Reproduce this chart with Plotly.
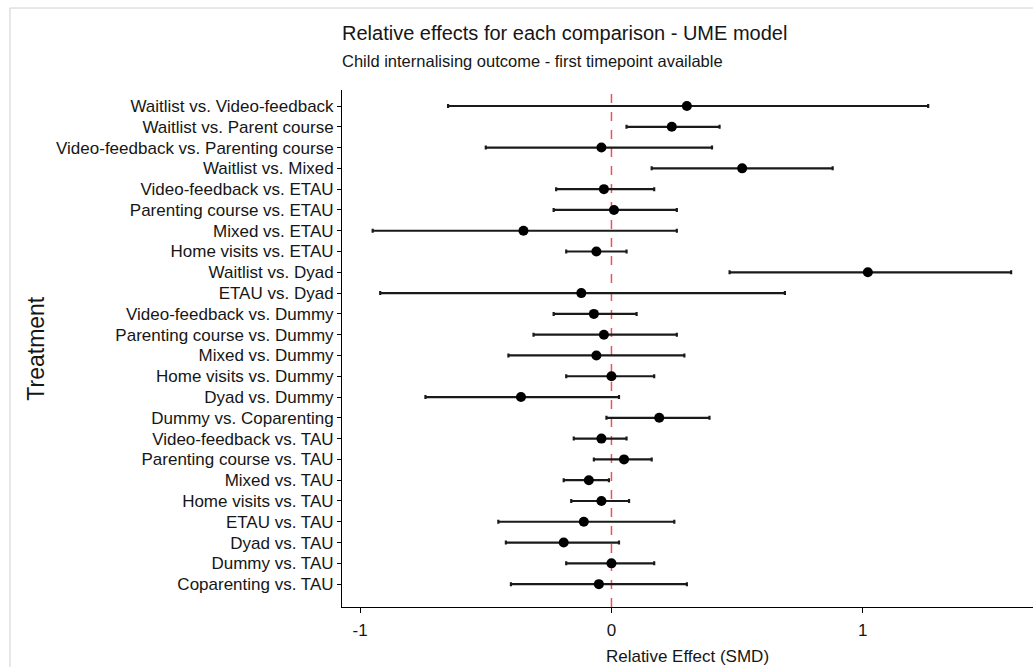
import plotly.graph_objects as go

# Comparisons, listed from top to bottom as displayed
comparisons = [
    "Waitlist vs. Video-feedback",
    "Waitlist vs. Parent course",
    "Video-feedback vs. Parenting course",
    "Waitlist vs. Mixed",
    "Video-feedback vs. ETAU",
    "Parenting course vs. ETAU",
    "Mixed vs. ETAU",
    "Home visits vs. ETAU",
    "Waitlist vs. Dyad",
    "ETAU vs. Dyad",
    "Video-feedback vs. Dummy",
    "Parenting course vs. Dummy",
    "Mixed vs. Dummy",
    "Home visits vs. Dummy",
    "Dyad vs. Dummy",
    "Dummy vs. Coparenting",
    "Video-feedback vs. TAU",
    "Parenting course vs. TAU",
    "Mixed vs. TAU",
    "Home visits vs. TAU",
    "ETAU vs. TAU",
    "Dyad vs. TAU",
    "Dummy vs. TAU",
    "Coparenting vs. TAU",
]

# Standardised mean differences with 95% intervals
smd = [0.30, 0.24, -0.04, 0.52, -0.03, 0.01, -0.35, -0.06, 1.02, -0.12,
       -0.07, -0.03, -0.06, 0.00, -0.36, 0.19, -0.04, 0.05, -0.09, -0.04,
       -0.11, -0.19, 0.00, -0.05]
lower = [-0.65, 0.06, -0.50, 0.16, -0.22, -0.23, -0.95, -0.18, 0.47, -0.92,
         -0.23, -0.31, -0.41, -0.18, -0.74, -0.02, -0.15, -0.07, -0.19, -0.16,
         -0.45, -0.42, -0.18, -0.40]
upper = [1.26, 0.43, 0.40, 0.88, 0.17, 0.26, 0.26, 0.06, 1.59, 0.69,
         0.10, 0.26, 0.29, 0.17, 0.03, 0.39, 0.06, 0.16, -0.01, 0.07,
         0.25, 0.03, 0.17, 0.30]

x_ticks = [-1, 0, 1]

err_plus = [u - m for u, m in zip(upper, smd)]
err_minus = [m - l for m, l in zip(smd, lower)]

FONT = "Liberation Sans, Arial, sans-serif"
INK = "#161616"

fig = go.Figure()
fig.add_trace(go.Scatter(
    x=smd,
    y=comparisons,
    mode="markers",
    marker=dict(color="black", size=10),
    error_x=dict(type="data", symmetric=False, array=err_plus,
                 arrayminus=err_minus, color="#1a1a1a", thickness=2.2,
                 width=2),
    showlegend=False,
    hoverinfo="x+y",
))

# Reference line of no effect
fig.add_shape(type="line", xref="x", yref="paper", x0=0, x1=0, y0=0, y1=1,
              line=dict(color="#f0505c", width=1.5, dash="dash"), layer="below")

# Light frame around the graphic
fig.add_shape(type="rect", xref="paper", yref="paper",
              x0=-0.4805, x1=1.2, y0=-0.3, y1=1.1586,
              line=dict(color="#d0d0d0", width=1), layer="below")

fig.add_annotation(text="Relative effects for each comparison - UME model",
                   xref="paper", yref="paper", x=-0.003, y=1.110,
                   xanchor="left", yanchor="middle", showarrow=False,
                   font=dict(family=FONT, size=20, color=INK))
fig.add_annotation(text="Child internalising outcome - first timepoint available",
                   xref="paper", yref="paper", x=-0.003, y=1.0560,
                   xanchor="left", yanchor="middle", showarrow=False,
                   font=dict(family=FONT, size=16.5, color=INK))
fig.add_annotation(text="Treatment", xref="paper", yref="paper",
                   x=-0.444, y=0.50, textangle=-90,
                   xanchor="center", yanchor="middle", showarrow=False,
                   font=dict(family=FONT, size=23, color=INK))

fig.update_layout(
    width=1033, height=667,
    margin=dict(l=342, r=0, t=90, b=60),
    paper_bgcolor="white", plot_bgcolor="white",
    font=dict(family=FONT, color=INK),
    xaxis=dict(
        range=[-1.072, 1.677],
        tickvals=x_ticks, ticktext=[str(v) for v in x_ticks],
        ticks="outside", ticklen=5, tickcolor="black",
        ticklabelstandoff=3,
        showline=True, linecolor="black", linewidth=1,
        showgrid=False, zeroline=False,
        tickfont=dict(size=17, color=INK),
        title=dict(text="Relative Effect (SMD)", standoff=10,
                   font=dict(size=17, color=INK)),
    ),
    yaxis=dict(
        type="category",
        categoryorder="array", categoryarray=comparisons[::-1],
        range=[-1.1, 23.77],
        ticks="outside", ticklen=4, tickcolor="black",
        showline=True, linecolor="black", linewidth=1,
        showgrid=False, zeroline=False,
        tickfont=dict(size=17, color=INK),
    ),
)

fig.write_html("out.html")
